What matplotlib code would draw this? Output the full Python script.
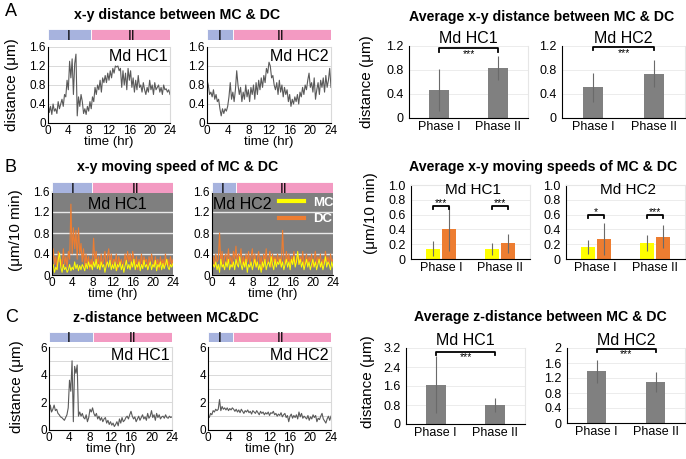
import numpy as np
import matplotlib
matplotlib.use('Agg')
import matplotlib.pyplot as plt
from matplotlib.lines import Line2D

plt.rcParams['font.family'] = ['Liberation Sans', 'DejaVu Sans']

W, H = 686, 459

# sampling times of the tracks (every 15 min, 0-24 hr)
time_hr = np.arange(97) * 0.25
hour_ticks = [0, 4, 8, 12, 16, 20, 24]
hour_labels = ['0', '4', '8', '12', '16', '20', '24']

# A: x-y distance between MC & DC (um)
xy_dist_hc1 = [0.45, 0.22, 0.35, 0.18, 0.4, 0.25, 0.3, 0.2, 0.45, 0.3, 0.4,
               0.5, 0.35, 0.6, 0.55, 0.9,
               0.7, 1.3, 0.95, 1.35, 0.6, 1.25, 1.45,
               0.15, 0.55, 0.35, 0.6, 0.45, 0.2, 0.3, 0.18,
               0.35, 0.25, 0.45, 0.3, 0.55, 0.45,
               0.75, 0.6, 0.8, 0.7, 0.9, 0.65, 0.95, 0.85,
               1.0, 0.85, 1.05, 0.9, 1.1, 0.95, 1.15, 1.05,
               1.2, 1.18, 1.2, 1.1, 1.15, 0.75, 1.1, 0.8,
               1.05, 0.7, 1.15, 0.9, 1.1, 0.75, 0.95, 0.65,
               0.9, 0.7, 1.0, 0.75, 0.8, 0.65, 0.85, 0.7,
               0.6, 0.75, 0.65, 0.9, 0.7, 0.8, 0.6, 0.85,
               0.7, 0.75, 0.8, 0.65, 0.75, 0.6, 0.8, 0.7,
               0.72, 0.65, 0.7, 0.6]
xy_dist_hc2 = [0.9, 0.8, 0.6, 0.65, 0.55, 0.7, 0.5, 0.6, 0.45, 0.5, 0.3,
               0.15, 0.3, 0.2, 0.3, 0.25,
               0.35, 0.55, 0.85, 0.5, 0.65, 0.45, 0.7,
               1.1, 0.8, 0.6, 0.75, 0.45, 0.65, 0.5, 0.8,
               0.55, 0.7, 0.45, 0.75, 0.6, 0.8,
               0.5, 0.85, 0.6, 0.9, 0.7, 0.95, 0.75, 1.0,
               0.85, 1.15, 1.05, 1.28, 1.2, 0.95, 1.0, 0.8,
               0.7, 0.85, 0.6, 0.9, 0.65, 0.8, 0.55, 0.75,
               0.6, 0.7, 0.45, 0.6, 0.35, 0.5, 0.4, 0.55,
               0.45, 0.6, 0.4, 0.65, 0.55, 0.75, 0.6, 0.8,
               0.7, 0.9, 1.05, 0.75, 0.85, 0.65, 0.95, 0.5,
               0.7, 0.85, 0.6, 0.9, 0.75, 0.95, 0.65, 1.0,
               0.75, 0.9, 1.15, 0.75]

# B: x-y moving speed (um/10 min)
speed_hc1_mc = [0.1, 0.2, 0.05, 0.15, 0.1, 0.3, 0.42, 0.15, 0.05, 0.2, 0.1,
                0.15, 0.05, 0.1, 0.2, 0.08,
                0.15, 0.1, 0.25, 0.12, 0.2, 0.08, 0.18,
                0.1, 0.2, 0.15, 0.08, 0.22, 0.12, 0.25, 0.15,
                0.2, 0.1, 0.25, 0.15, 0.3, 0.12,
                0.2, 0.1, 0.25, 0.15, 0.2, 0.05, 0.18, 0.25,
                0.15, 0.28, 0.1, 0.2, 0.12, 0.25, 0.08, 0.2,
                0.15, 0.25, 0.1, 0.2, 0.05, 0.18, 0.28, 0.12,
                0.2, 0.1, 0.25, 0.15, 0.3, 0.1, 0.2, 0.15,
                0.25, 0.08, 0.2, 0.12, 0.28, 0.15, 0.2, 0.1,
                0.18, 0.25, 0.1, 0.2, 0.15, 0.28, 0.08, 0.2,
                0.15, 0.25, 0.1, 0.22, 0.12, 0.2, 0.3, 0.15,
                0.1, 0.2, 0.15, 0.22]
speed_hc1_dc = [0.15, 0.5, 0.2, 0.35, 0.1, 0.45, 0.25, 0.3, 0.15, 0.5, 0.2,
                0.35, 0.15, 0.45, 0.3, 1.35,
                0.4, 0.9, 0.5, 0.85, 0.3, 0.9, 0.4,
                0.6, 0.25, 0.5, 0.15, 0.4, 0.2, 0.35, 0.1,
                0.3, 0.15, 0.7, 0.25, 0.45, 0.2,
                0.35, 0.1, 0.4, 0.2, 0.3, 0.45, 0.15, 0.35,
                0.5, 0.2, 0.4, 0.15, 0.3, 0.25, 0.4, 0.1,
                0.35, 0.2, 0.3, 0.15, 0.25, 0.4, 0.2, 0.45,
                0.25, 0.4, 0.15, 0.45, 0.3, 0.2, 0.35, 0.1,
                0.3, 0.2, 0.4, 0.15, 0.35, 0.25, 0.3, 0.1,
                0.35, 0.2, 0.4, 0.25, 0.15, 0.35, 0.2, 0.3,
                0.1, 0.35, 0.2, 0.3, 0.15, 0.4, 0.2, 0.3,
                0.15, 0.35, 0.2, 0.3]
speed_hc2_mc = [0.1, 0.2, 0.15, 0.25, 0.1, 0.2, 0.05, 0.3, 0.15, 0.2, 0.1,
                0.25, 0.15, 0.3, 0.1, 0.2,
                0.15, 0.25, 0.1, 0.3, 0.2, 0.15, 0.35,
                0.2, 0.1, 0.25, 0.15, 0.3, 0.05, 0.2, 0.15,
                0.25, 0.1, 0.2, 0.3, 0.15, 0.25,
                0.1, 0.2, 0.05, 0.25, 0.15, 0.3, 0.1, 0.2,
                0.25, 0.15, 0.35, 0.2, 0.1, 0.3, 0.15, 0.25,
                0.2, 0.3, 0.15, 0.25, 0.1, 0.2, 0.3, 0.15,
                0.25, 0.1, 0.3, 0.2, 0.35, 0.15, 0.25, 0.45,
                0.2, 0.3, 0.15, 0.25, 0.1, 0.2, 0.3, 0.15,
                0.25, 0.1, 0.2, 0.3, 0.15, 0.25, 0.1, 0.2,
                0.3, 0.15, 0.25, 0.1, 0.2, 0.35, 0.15, 0.25,
                0.2, 0.1, 0.25, 0.15]
speed_hc2_dc = [0.2, 0.35, 0.15, 0.4, 0.25, 0.3, 0.8, 0.2, 0.45, 0.15, 0.35,
                0.4, 0.2, 0.5, 0.25, 0.35,
                0.15, 0.45, 0.3, 0.55, 0.2, 0.4, 0.3,
                0.5, 0.2, 0.35, 0.15, 0.4, 0.25, 0.45, 0.2,
                0.35, 0.5, 0.2, 0.4, 0.15, 0.3,
                0.45, 0.2, 0.35, 0.1, 0.4, 0.25, 0.5, 0.2,
                0.3, 0.45, 0.15, 0.4, 0.25, 0.35, 0.2, 0.4,
                0.25, 0.35, 0.15, 0.85, 0.3, 0.2, 0.45, 0.25,
                0.4, 0.15, 0.35, 0.25, 0.45, 0.2, 0.3, 0.4,
                0.2, 0.35, 0.25, 0.45, 0.15, 0.3, 0.4, 0.2,
                0.35, 0.25, 0.4, 0.15, 0.3, 0.45, 0.2, 0.35,
                0.25, 0.4, 0.15, 0.3, 0.2, 0.45, 0.25, 0.35,
                0.2, 0.4, 0.25, 0.3]

# C: z-distance between MC & DC (um)
z_dist_hc1 = [1.0, 1.8, 1.3, 1.5, 1.8, 1.4, 1.5, 1.2, 1.1, 0.95, 0.9,
              0.8, 0.7, 0.9, 1.1, 1.6,
              3.6, 2.8, 5.0, 0.6, 4.6, 4.1, 4.7,
              1.0, 1.3, 1.0, 1.2, 0.9, 0.8, 1.1, 0.6,
              0.9, 1.5, 1.3, 1.6, 1.2, 1.0,
              1.2, 0.8, 1.0, 0.7, 0.9, 0.6, 0.8, 0.9,
              0.5, 0.7, 0.4, 0.6, 0.35, 0.5, 0.25, 0.4,
              0.6, 0.3, 0.8, 0.5, 0.9, 0.6, 0.7, 0.9,
              1.0, 0.8, 1.1, 1.35, 1.0, 0.8, 0.95, 0.6,
              0.8, 1.0, 0.7, 0.9, 1.1, 0.8, 0.95, 0.7,
              1.2, 0.85, 1.0, 1.4, 0.9, 1.1, 0.7, 1.2,
              0.9, 1.1, 0.8, 0.95, 1.0, 0.85, 1.1, 0.9,
              0.85, 1.0, 0.9, 0.95]
z_dist_hc2 = [1.0, 0.9, 1.2, 1.1, 1.4, 1.3, 1.5, 1.4, 1.5, 2.2, 1.4,
              1.7, 1.5, 1.6, 1.45, 1.6,
              1.4, 1.55, 1.45, 1.6, 1.5, 1.35, 1.5,
              1.3, 1.45, 1.25, 1.5, 1.35, 1.2, 1.4, 1.3,
              1.45, 1.25, 1.35, 1.15, 1.4, 1.3,
              1.2, 1.4, 1.25, 1.1, 1.35, 1.2, 1.3, 1.1,
              1.25, 1.15, 1.3, 1.05, 1.25, 1.2, 1.35, 1.1,
              1.2, 1.0, 1.15, 1.05, 1.25, 0.95, 1.1, 1.2,
              0.9, 1.05, 0.6, 1.0, 1.15, 0.85, 1.05, 0.9,
              1.1, 0.8, 1.3, 0.95, 1.2, 0.85, 1.0, 0.9,
              0.8, 1.05, 0.7, 0.95, 0.8, 1.1, 0.9, 1.05,
              0.6, 0.85, 0.75, 1.0, 1.2, 0.8, 0.65, 0.5,
              0.8, 1.0, 0.7, 1.0]

# phase I / II boundaries (hr)
phase_end_a = [8.5, 5.0]
phase_end_b = [8.0, 4.8]
phase_end_c = [8.6, 4.9]

# averages (mean, SD)
phases = ['Phase I', 'Phase II']
avg_xy_hc1, sd_xy_hc1 = [0.46, 0.84], [0.35, 0.20]
avg_xy_hc2, sd_xy_hc2 = [0.51, 0.74], [0.24, 0.23]
avg_sp_hc1_mc, sd_sp_hc1_mc = [0.14, 0.135], [0.10, 0.08]
avg_sp_hc1_dc, sd_sp_hc1_dc = [0.41, 0.21], [0.30, 0.13]
avg_sp_hc2_mc, sd_sp_hc2_mc = [0.16, 0.22], [0.095, 0.11]
avg_sp_hc2_dc, sd_sp_hc2_dc = [0.27, 0.30], [0.21, 0.155]
avg_z_hc1, sd_z_hc1 = [1.65, 0.80], [1.20, 0.30]
avg_z_hc2, sd_z_hc2 = [1.38, 1.10], [0.30, 0.27]

LAV = '#a7b3de'
PINK = '#f39ac2'
LINE = '#5a5a5a'
BAR = '#808080'
YEL = '#ffff00'
ORA = '#ed7d31'
GRID = '#d9d9d9'

TICK = 8.5
fig = plt.figure(figsize=(W / 100, H / 100), dpi=100)


def place(x0, y0, x1, y1):
    return fig.add_axes([x0 / W, 1 - y1 / H, (x1 - x0) / W, (y1 - y0) / H])


def phase_bar(x0, y0, x1, y1, end, one_at, two_at):
    ax = place(x0, y0, x1, y1)
    ax.barh(0, end, left=0, height=1, color=LAV, edgecolor='white', linewidth=0.6)
    ax.barh(0, 24 - end, left=end, height=1, color=PINK, edgecolor='white', linewidth=0.6)
    ax.set_xlim(0, 24)
    ax.set_ylim(-0.5, 0.5)
    ax.axis('off')
    ax.text(one_at, 0, 'I', fontsize=10, ha='center', va='center_baseline')
    ax.text(two_at, 0, 'II', fontsize=10, ha='center', va='center_baseline')
    return ax


def series_style(ax, ymax, yticks, ylabels):
    ax.set_xlim(0, 24)
    ax.set_ylim(0, ymax)
    ax.set_xticks(hour_ticks)
    ax.set_xticklabels(hour_labels)
    ax.set_yticks(yticks)
    ax.set_yticklabels(ylabels)
    ax.tick_params(length=0, labelsize=TICK, pad=1.5)
    ax.set_xlabel('time (hr)', fontsize=9.5, labelpad=-0.5)
    ax.spines['top'].set_visible(False)
    ax.spines['right'].set_color(GRID)
    ax.spines['left'].set_color('black')
    ax.spines['bottom'].set_color('black')
    ax.set_axisbelow(True)


def bar_style(ax, ymax, yticks, ylabels, title, inside=False):
    ax.set_xlim(-0.5, 1.5)
    ax.set_ylim(0, ymax)
    ax.set_xticks([0, 1])
    ax.set_xticklabels(phases, fontsize=9.5)
    ax.set_yticks(yticks)
    ax.set_yticklabels(ylabels)
    ax.tick_params(length=0, labelsize=9, pad=4)
    ax.tick_params(axis='x', pad=2.5)
    ax.grid(axis='y', color='#ececec', linewidth=0.7)
    ax.set_axisbelow(True)
    ax.spines['top'].set_visible(False)
    ax.spines['right'].set_color('#e6e6e6')
    if inside:
        ax.spines['top'].set_visible(True)
        ax.spines['top'].set_color('#e6e6e6')
        ax.text(0.52, 0.935, title, transform=ax.transAxes, fontsize=11,
                ha='center', va='center')
    else:
        ax.set_title(title, fontsize=11.5, pad=1)


def bracket(ax, xa, xb, y, drop, stars, star_y):
    ax.plot([xa, xa, xb, xb], [y - drop, y, y, y - drop], color='black',
            linewidth=1.3, clip_on=False)
    ax.text((xa + xb) / 2, star_y, stars, fontsize=7.5, ha='center', va='center')


def err_kw():
    return dict(ecolor='#6a6a6a', elinewidth=0.8, capsize=0)


# ---------------- panel A ----------------
fig.text(5 / W, 1 - 12 / H, 'A', fontsize=13, va='center')
fig.text(177 / W, 1 - 15 / H, 'x-y distance between MC & DC', fontsize=10.2,
         fontweight='bold', ha='center', va='center')
fig.text(12 / W, 1 - 85 / H, 'distance (μm)', fontsize=11, rotation=90,
         ha='center', va='center')

for (x0, x1), vals, end, one, two, name in [
        ((48, 170), xy_dist_hc1, phase_end_a[0], 4.0, 16.5, 'Md HC1'),
        ((207, 331), xy_dist_hc2, phase_end_a[1], 2.5, 14.3, 'Md HC2')]:
    phase_bar(x0, 29, x1, 40, end, one, two)
    ax = place(x0, 47, x1, 123)
    ax.plot(time_hr, vals, color=LINE, linewidth=0.8)
    series_style(ax, 1.6, [0, 0.4, 0.8, 1.2, 1.6], ['0', '0.4', '0.8', '1.2', '1.6'])
    ax.grid(axis='y', color=GRID, linewidth=0.7)
    ax.text(23.6, 1.39, name, fontsize=11.5, ha='right', va='center')

fig.text(542 / W, 1 - 17 / H, 'Average x-y distance between MC & DC', fontsize=10.2,
         fontweight='bold', ha='center', va='center')
fig.text(367 / W, 1 - 82 / H, 'distance (μm)', fontsize=11, rotation=90,
         ha='center', va='center')

ax = place(409, 46, 528, 118)
ax.bar([0, 1], avg_xy_hc1, width=0.33, color=BAR, yerr=sd_xy_hc1, error_kw=err_kw())
bar_style(ax, 1.2, [0, 0.4, 0.8, 1.2], ['0', '0.4', '0.8', '1.2'], 'Md HC1')
bracket(ax, 0, 1, 1.16, 0.06, '***', 1.07)

ax = place(562, 46, 685, 118)
ax.bar([0, 1], avg_xy_hc2, width=0.33, color=BAR, yerr=sd_xy_hc2, error_kw=err_kw())
bar_style(ax, 1.2, [0, 0.4, 0.8, 1.2], ['0', '0.4', '0.8', '1.2'], 'Md HC2')
bracket(ax, 0, 1, 1.19, 0.06, '***', 1.08)

# ---------------- panel B ----------------
fig.text(5 / W, 1 - 168 / H, 'B', fontsize=13, va='center')
fig.text(178 / W, 1 - 167 / H, 'x-y moving speed of MC & DC', fontsize=10.2,
         fontweight='bold', ha='center', va='center')
fig.text(16 / W, 1 - 230 / H, '(μm/10 min)', fontsize=11, rotation=90,
         ha='center', va='center')

for (x0, x1), mc, dc, end, one, two, name, nx in [
        ((52, 173), speed_hc1_mc, speed_hc1_dc, phase_end_b[0], 4.2, 16.5, 'Md HC1', 12.9),
        ((212, 333), speed_hc2_mc, speed_hc2_dc, phase_end_b[1], 2.2, 14.2, 'Md HC2', 6.0)]:
    ax = place(x0, 191, x1, 275)
    ax.set_facecolor('#7f7f7f')
    ax.plot(time_hr, dc, color=ORA, linewidth=0.8, label='DC')
    ax.plot(time_hr, mc, color=YEL, linewidth=0.7, label='MC')
    series_style(ax, 1.6, [0, 0.4, 0.8, 1.2, 1.6], ['0', '0.4', '0.8', '1.2', '1.6'])
    ax.spines['right'].set_visible(False)
    ax.grid(axis='y', color='#e8e8e8', linewidth=1.0)
    ax.text(nx, 1.35, name, fontsize=11.5, ha='center', va='center')
    phase_bar(x0, 182, x1, 193, end, one, two)
    if name == 'Md HC2':
        handles = [Line2D([], [], color=YEL, linewidth=3),
                   Line2D([], [], color=ORA, linewidth=3)]
        ax.legend(handles, ['MC', 'DC'], loc='upper left',
                  bbox_to_anchor=(0.55, 0.93), frameon=False,
                  handlelength=1.9, handletextpad=0.7, labelspacing=0.3,
                  prop={'weight': 'bold', 'size': 9.5}, labelcolor='white',
                  borderaxespad=0, borderpad=0)

fig.text(543 / W, 1 - 167 / H, 'Average x-y moving speeds of MC & DC', fontsize=10.2,
         fontweight='bold', ha='center', va='center')
fig.text(371 / W, 1 - 213 / H, '(μm/10 min)', fontsize=11, rotation=90,
         ha='center', va='center')

bw = 0.23
sp_ticks = [0, 0.2, 0.4, 0.6, 0.8, 1.0]
sp_labels = ['0', '0.2', '0.4', '0.6', '0.8', '1.0']
for (x0, x1), mc, smc, dc, sdc, name, stars, by in [
        ((411, 530), avg_sp_hc1_mc, sd_sp_hc1_mc, avg_sp_hc1_dc, sd_sp_hc1_dc,
         'Md HC1', ['***', '***'], [0.72, 0.72]),
        ((566, 685), avg_sp_hc2_mc, sd_sp_hc2_mc, avg_sp_hc2_dc, sd_sp_hc2_dc,
         'Md HC2', ['*', '***'], [0.6, 0.6])]:
    ax = place(x0, 185, x1, 259)
    xs = np.arange(2)
    ax.bar(xs - bw / 2 - 0.02, mc, width=bw, color=YEL, yerr=smc, error_kw=err_kw())
    ax.bar(xs + bw / 2 + 0.02, dc, width=bw, color=ORA, yerr=sdc, error_kw=err_kw())
    bar_style(ax, 1.0, sp_ticks, sp_labels, name, inside=True)
    for i in range(2):
        bracket(ax, xs[i] - bw / 2 - 0.02, xs[i] + bw / 2 + 0.02, by[i], 0.05,
                stars[i], by[i] + 0.03)

# ---------------- panel C ----------------
fig.text(5 / W, 1 - 318 / H, 'C', fontsize=13, va='center')
fig.text(166 / W, 1 - 318 / H, 'z-distance between MC&DC', fontsize=10.2,
         fontweight='bold', ha='center', va='center')
fig.text(17 / W, 1 - 387 / H, 'distance (μm)', fontsize=11, rotation=90,
         ha='center', va='center')

for (x0, x1), vals, end, one, two, name in [
        ((49, 172), z_dist_hc1, phase_end_c[0], 3.9, 16.4, 'Md HC1'),
        ((208, 331), z_dist_hc2, phase_end_c[1], 2.3, 14.2, 'Md HC2')]:
    phase_bar(x0, 332, x1, 342, end, one, two)
    ax = place(x0, 347, x1, 430)
    ax.plot(time_hr, vals, color=LINE, linewidth=0.8)
    series_style(ax, 6, [0, 2, 4, 6], ['0', '2', '4', '6'])
    ax.set_yticks([1, 3, 5], minor=True)
    ax.tick_params(which='minor', length=0)
    ax.grid(axis='y', which='both', color=GRID, linewidth=0.7)
    ax.text(23.6, 5.4, name, fontsize=11.5, ha='right', va='center')

fig.text(540 / W, 1 - 317 / H, 'Average z-distance between MC & DC', fontsize=10.2,
         fontweight='bold', ha='center', va='center')
fig.text(368 / W, 1 - 382 / H, 'distance (μm)', fontsize=11, rotation=90,
         ha='center', va='center')

ax = place(406, 348, 525, 424)
ax.bar([0, 1], avg_z_hc1, width=0.33, color=BAR, yerr=sd_z_hc1, error_kw=err_kw())
bar_style(ax, 3.2, [0, 0.8, 1.6, 2.4, 3.2], ['0', '0.8', '1.6', '2.4', '3.2'], 'Md HC1')
bracket(ax, 0, 1, 3.05, 0.15, '***', 2.8)

ax = place(567, 348, 685, 423)
ax.bar([0, 1], avg_z_hc2, width=0.33, color=BAR, yerr=sd_z_hc2, error_kw=err_kw())
bar_style(ax, 2.0, [0, 0.4, 0.8, 1.2, 1.6, 2.0], ['0', '0.4', '0.8', '1.2', '1.6', '2'], 'Md HC2')
bracket(ax, 0, 1, 1.97, 0.07, '***', 1.85)

fig.savefig('out.png', dpi=100)
